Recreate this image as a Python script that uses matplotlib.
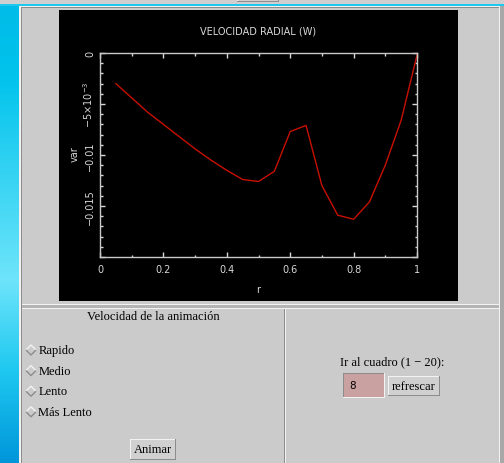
import numpy as np
import matplotlib
matplotlib.use('Agg')
import matplotlib.pyplot as plt
from matplotlib.patches import Rectangle, Polygon
from matplotlib.ticker import FixedLocator, MultipleLocator

r = [0.05, 0.10, 0.15, 0.20, 0.25, 0.30, 0.35, 0.40, 0.45, 0.50,
     0.55, 0.60, 0.65, 0.70, 0.75, 0.80, 0.85, 0.90, 0.95, 1.00]
var = [-0.0030, -0.0044, -0.0058, -0.0070, -0.0082, -0.0094, -0.0105, -0.0115, -0.0124, -0.0126,
       -0.0116, -0.0077, -0.0071, -0.0130, -0.0159, -0.0163, -0.0146, -0.0110, -0.0066, -0.0002]

x_ticks = [0, 0.2, 0.4, 0.6, 0.8, 1.0]
x_labels = ['0', '0.2', '0.4', '0.6', '0.8', '1']
y_ticks = [0, -0.005, -0.01, -0.015, -0.02]
y_labels = ['0', r'$-5{\times}10^{-3}$', '\u22120.01', '\u22120.015', '']
speeds = ['Rapido', 'Medio', 'Lento', 'Más Lento']

W, H = 504, 464
GRAY = '#cbcbcb'
LIGHT = '#f2f2f2'
DARK = '#8c8c8c'
FG = '#d8d8d8'

fig = plt.figure(figsize=(W / 100, H / 100), dpi=100)
fig.patch.set_facecolor(GRAY)

bg = fig.add_axes([0, 0, 1, 1])
bg.axis('off')


def rect(x0, y0, x1, y1, c):
    bg.add_patch(Rectangle((x0, y0), x1 - x0, y1 - y0, facecolor=c, lw=0))


def bevel(x0, y0, x1, y1, raised=True, fill=None):
    if fill is not None:
        rect(x0, y0, x1, y1, fill)
    tl, br = (LIGHT, DARK) if raised else (DARK, LIGHT)
    rect(x0, y0, x1, y0 + 1, tl)
    rect(x0, y0, x0 + 1, y1, tl)
    rect(x0, y1 - 1, x1, y1, br)
    rect(x1 - 1, y0, x1, y1, br)


# escritorio azul a la izquierda
rows = np.linspace(0, 1, 200)
rr = np.interp(rows, [0, 0.15, 0.6, 0.8, 1], [0, 0, 110, 30, 0])
gg = np.interp(rows, [0, 0.15, 0.6, 0.8, 1], [188, 195, 228, 200, 150])
bb = np.interp(rows, [0, 0.15, 0.6, 0.8, 1], [232, 236, 250, 240, 218])
grad = np.stack([rr, gg, bb], axis=1)[:, None, :] / 255.0
bg.imshow(np.repeat(grad, 2, axis=1), extent=(0, 19, H, 6), aspect='auto', interpolation='bilinear')

# barra superior
rect(0, 0, W, 5, '#cfcfcf')
bevel(237, -3, 279, 3, raised=True)
rect(0, 5, W, 7, '#1ec8ec')

# marco de la ventana
rect(19, 7, W, H, GRAY)
rect(19, 7, 21, H, LIGHT)
rect(21, 7, 22, H, DARK)
rect(19, 7, W, 8, LIGHT)
rect(21, 8, W, 9, DARK)
rect(499, 7, 500, H, LIGHT)
rect(500, 7, W, H, '#a8a8a8')

# separacion entre paneles
rect(22, 305, 499, 306, LIGHT)
rect(22, 306, 499, 309, '#b4b4b4')
rect(22, 309, 499, 310, LIGHT)
rect(284, 310, 285, H, DARK)
rect(285, 310, 286, H, LIGHT)

# fondo negro del grafico
rect(59, 11, 458, 302, 'black')

bg.set_xlim(0, W)
bg.set_ylim(H, 0)

# grafico
ax = fig.add_axes([100 / W, 1 - 258 / H, 317 / W, 204 / H], facecolor='black')
ax.plot(r, var, color='#c81000', lw=1)
ax.set_xlim(0, 1)
ax.set_ylim(-0.02, 0)
ax.xaxis.set_major_locator(FixedLocator(x_ticks))
ax.xaxis.set_minor_locator(MultipleLocator(0.1))
ax.yaxis.set_major_locator(FixedLocator(y_ticks))
ax.yaxis.set_minor_locator(MultipleLocator(0.001))
ax.set_xticklabels(x_labels)
ax.set_yticklabels(y_labels, rotation=90, va='center')
ax.tick_params(which='both', direction='in', top=True, right=True, colors=FG, labelsize=7)
ax.tick_params(which='major', length=3.6, width=1)
ax.tick_params(which='minor', length=1.8, width=1)
ax.tick_params(axis='x', pad=5)
ax.tick_params(axis='y', pad=3.5)
for s in ax.spines.values():
    s.set_color('#c8c8c8')
    s.set_linewidth(1)

bg.text(258, 31, 'VELOCIDAD RADIAL (W)', ha='center', va='center', color=FG, fontsize=7)
bg.text(258, 290, 'r', ha='center', va='center', color=FG, fontsize=7)
bg.text(75, 154, 'var', ha='center', va='center', color=FG, fontsize=7, rotation=90)

# controles de la animacion
serif = 'Liberation Serif'
bg.text(153, 317, 'Velocidad de la animación', ha='center', va='center', fontsize=9, family=serif)
for i, name in enumerate(speeds):
    cy = 351 + i * 20.6
    cx = 31
    bg.add_patch(Polygon([(cx - 5, cy), (cx, cy - 5), (cx + 5, cy), (cx, cy + 5)], closed=True,
                         facecolor=GRAY, edgecolor='none'))
    bg.plot([cx - 5, cx, cx + 5], [cy, cy - 5, cy], color=LIGHT, lw=1, solid_capstyle='butt')
    bg.plot([cx - 5, cx, cx + 5], [cy, cy + 5, cy], color=DARK, lw=1, solid_capstyle='butt')
    bg.text(38.5, cy, name, ha='left', va='center', fontsize=9, family=serif)

bevel(130, 440, 176, 461, raised=True, fill='#d0d0d0')
bg.text(153, 450.5, 'Animar', ha='center', va='center', fontsize=9, family=serif)

bg.text(392, 362, 'Ir al cuadro (1 \u2212 20):', ha='center', va='center', fontsize=9, family=serif)
bevel(343, 374, 385, 399, raised=False, fill='#c9a1a1')
bg.text(349, 386.5, '8', ha='left', va='center', fontsize=7.5, family='DejaVu Sans')
bevel(388, 377, 440, 397, raised=True, fill='#d0d0d0')
bg.text(414, 387, 'refrescar', ha='center', va='center', fontsize=9, family=serif)

bg.set_xlim(0, W)
bg.set_ylim(H, 0)

fig.savefig('out.png', dpi=100, facecolor=fig.get_facecolor())
